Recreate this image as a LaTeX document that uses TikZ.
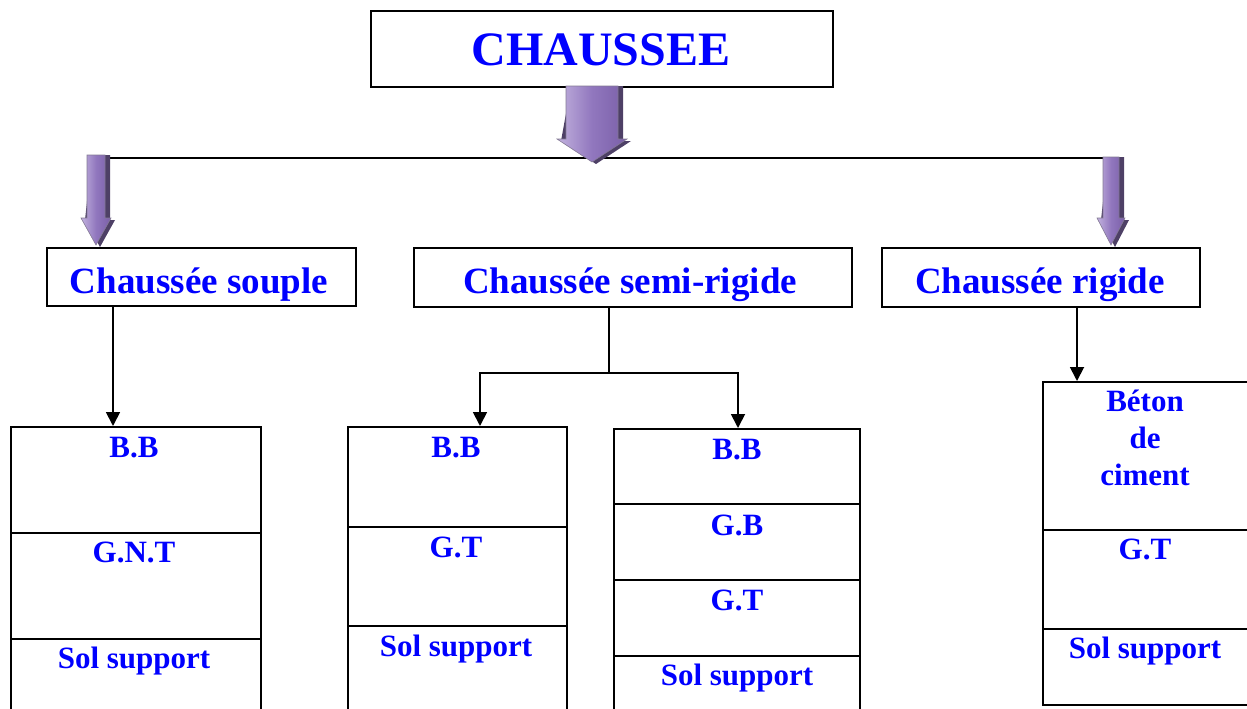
\documentclass[tikz,border=0pt]{standalone}
\usepackage{fontspec}
\setmainfont{Liberation Serif}
\usetikzlibrary{arrows.meta}
\definecolor{txtblue}{HTML}{0000FF}
\definecolor{purpL}{HTML}{C2B2DE}
\definecolor{purpM}{HTML}{9177BE}
\definecolor{purpR}{HTML}{7A5FA8}
\definecolor{purpS}{HTML}{4E4066}
\newcommand\parrow[6]{% cx, ytop, shaft half, head half, head top, tip
  \fill[purpS] ({#1-#3+5},{#2}) -- ({#1+#3+5},{#2}) -- ({#1+#3+5},{#5+2}) -- ({#1+#4+4},{#5+2})
     -- ({#1+4},{#6+2}) -- ({#1-#4+4},{#5+2}) -- cycle;
  \shade[left color=purpL, right color=purpR, middle color=purpM, draw=purpS!70, line width=0.6pt]
     ({#1-#3},{#2}) -- ({#1+#3},{#2}) -- ({#1+#3},{#5}) -- ({#1+#4},{#5})
     -- ({#1},{#6}) -- ({#1-#4},{#5}) -- ({#1-#3},{#5}) -- cycle;
}
\begin{document}
\begin{tikzpicture}[x=1pt,y=-1pt,
  box/.style={draw=black, line width=2pt, inner sep=0pt, anchor=north west},
  layer/.style={draw=black, line width=1.5pt, inner sep=0pt, anchor=north west},
  ttl/.style={text=txtblue, font=\fontsize{48}{52}\selectfont\bfseries, anchor=base, inner sep=0pt},
  hdr/.style={text=txtblue, font=\fontsize{37}{40}\selectfont\bfseries, anchor=base, inner sep=0pt},
  lab/.style={text=txtblue, font=\fontsize{31}{37}\selectfont\bfseries, anchor=base, inner sep=0pt, align=center},
  conn/.style={draw=black, line width=1.8pt, -{Triangle[length=14pt,width=14pt]}},
  bus/.style={draw=black, line width=2pt}]
\useasboundingbox (0,0) rectangle (1247,709);
\clip (0,0) rectangle (1247,709);

% top box
\node[box, minimum width=462pt, minimum height=76pt] (top) at (370,10) {};
\node[ttl] (title) at (601,66) {CHAUSSEE};

% bus line
\coordinate (busL) at (108,158);
\coordinate (busR) at (1123,158);
\draw[bus] (busL) -- (busR);

% purple block arrows
\parrow{592}{86}{26}{35}{139}{162}
\parrow{96}{155}{9}{15}{218}{245}
\parrow{1111}{157}{8}{14}{218}{245}

% header boxes
\node[box, minimum width=309pt, minimum height=58pt] (hs) at (46,247) {};
\node[hdr] (hst) at (199,293) {Chaussée souple};
\node[box, minimum width=438pt, minimum height=59pt] (hm) at (413,247) {};
\node[hdr] (hmt) at (630,293) {Chaussée semi-rigide};
\node[box, minimum width=318pt, minimum height=59pt] (hr) at (881,247) {};
\node[hdr] (hrt) at (1040,293) {Chaussée rigide};

% column 1
\node[layer, minimum width=250pt, minimum height=106pt] (c1a) at (10,426) {};
\node[layer, minimum width=250pt, minimum height=106pt] (c1b) at (10,532) {};
\node[layer, minimum width=250pt, minimum height=90pt] (c1c) at (10,638) {};
\node[lab] (t1a) at (134,457) {B.B};
\node[lab] (t1b) at (134,562) {G.N.T};
\node[lab] (t1c) at (134,668) {Sol support};

% column 2
\node[layer, minimum width=219pt, minimum height=100pt] (c2a) at (347,426) {};
\node[layer, minimum width=219pt, minimum height=99pt] (c2b) at (347,526) {};
\node[layer, minimum width=219pt, minimum height=95pt] (c2c) at (347,625) {};
\node[lab] (t2a) at (456,457) {B.B};
\node[lab] (t2b) at (456,557) {G.T};
\node[lab] (t2c) at (456,656) {Sol support};

% column 3
\node[layer, minimum width=246pt, minimum height=75pt] (c3a) at (613,428) {};
\node[layer, minimum width=246pt, minimum height=76pt] (c3b) at (613,503) {};
\node[layer, minimum width=246pt, minimum height=76pt] (c3c) at (613,579) {};
\node[layer, minimum width=246pt, minimum height=70pt] (c3d) at (613,655) {};
\node[lab] (t3a) at (737,459) {B.B};
\node[lab] (t3b) at (737,535) {G.B};
\node[lab] (t3c) at (737,610) {G.T};
\node[lab] (t3d) at (737,685) {Sol support};

% column 4
\node[layer, minimum width=220pt, minimum height=148pt] (c4a) at (1042,381) {};
\node[layer, minimum width=220pt, minimum height=99pt] (c4b) at (1042,529) {};
\node[layer, minimum width=220pt, minimum height=76pt] (c4c) at (1042,628) {};
\node[lab] (t4a) at (1145,485) {Béton\\de\\ciment};
\node[lab] (t4b) at (1145,559) {G.T};
\node[lab] (t4c) at (1145,658) {Sol support};

% connectors
\coordinate (x1) at (113,0);
\coordinate (xm) at (609,0);
\coordinate (x2) at (480,0);
\coordinate (x3) at (738,0);
\coordinate (x4) at (1077,0);
\coordinate (split) at (609,373);
\draw[conn] (hs.south -| x1) -- (c1a.north -| x1);
\draw[bus, line width=1.8pt] (hm.south -| xm) -- (split);
\draw[conn] (split) -| (c2a.north -| x2);
\draw[conn] (split) -| (c3a.north -| x3);
\draw[conn] (hr.south -| x4) -- (c4a.north -| x4);
\end{tikzpicture}
\end{document}
